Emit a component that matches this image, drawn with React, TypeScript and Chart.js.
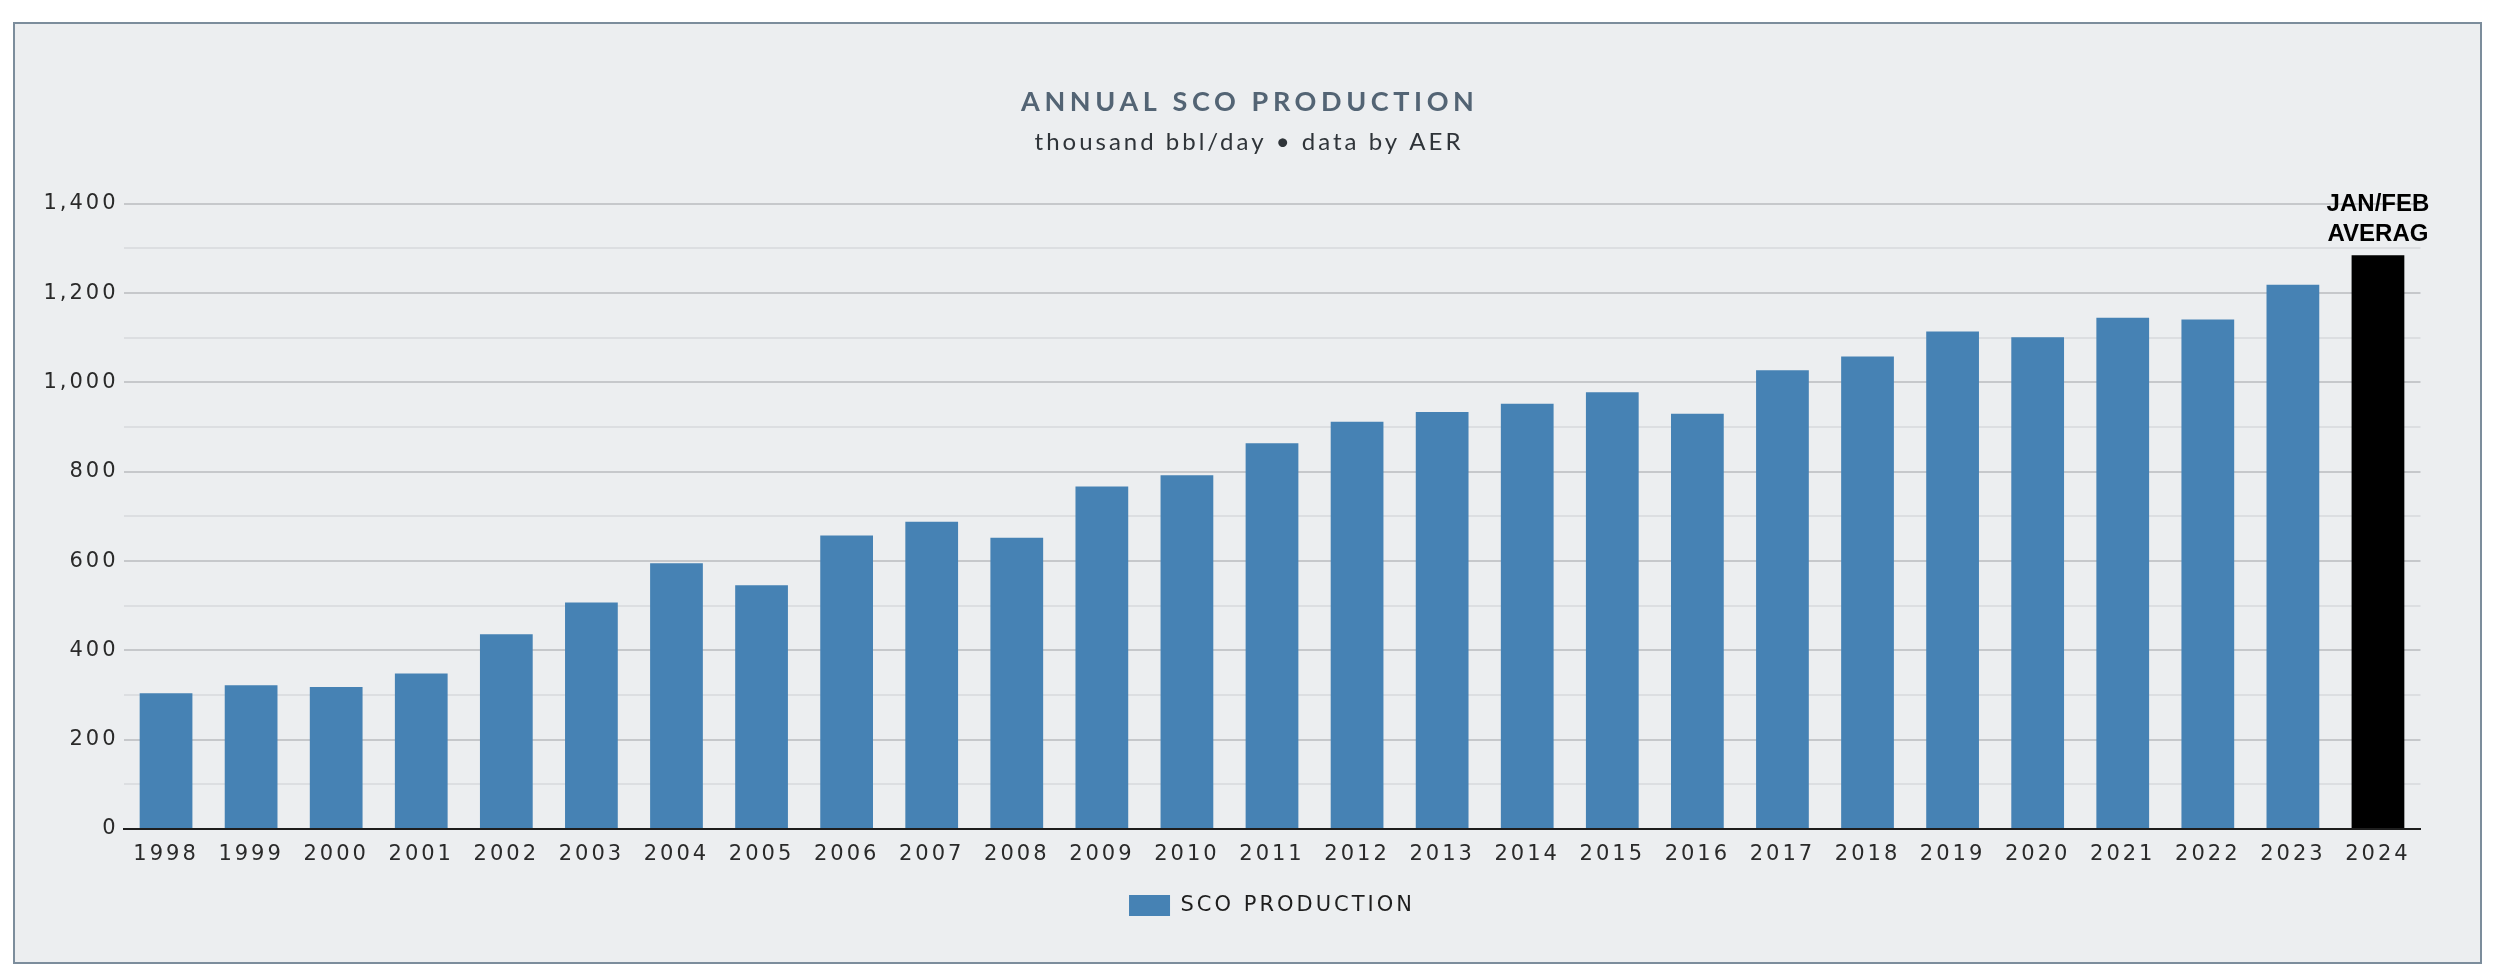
import React, { useEffect, useRef } from 'react';
import { Chart, registerables } from 'chart.js';

Chart.register(...registerables);

const titleText = 'ANNUAL SCO PRODUCTION';
const subtitleText = 'thousand bbl/day \u2022 data by AER';
const seriesName = 'SCO PRODUCTION';

const years = [
  '1998', '1999', '2000', '2001', '2002', '2003', '2004', '2005', '2006',
  '2007', '2008', '2009', '2010', '2011', '2012', '2013', '2014', '2015',
  '2016', '2017', '2018', '2019', '2020', '2021', '2022', '2023', '2024',
];

const production = [
  304, 322, 318, 348, 436, 507, 595, 546, 657,
  688, 652, 767, 792, 864, 912, 934, 952, 978,
  930, 1027, 1058, 1114, 1101, 1145, 1141, 1219, 1285,
];

const highlightLabel = ['JAN/FEB', 'AVERAG'];

const yTickValues = [0, 200, 400, 600, 800, 1000, 1200, 1400];

const BLUE = '#4682b4';
const HIGHLIGHT = '#000000';
const TICK_SPACING = '3px';

const spacingPlugin = {
  id: 'spacing',
  beforeUpdate(chart: any) {
    chart.ctx.letterSpacing = TICK_SPACING;
  },
  afterLayout(chart: any) {
    chart.boxes.forEach((b: any) => {
      if (b && b.options && typeof b.options.text === 'string' && !b.__wrapped) {
        const orig = b.draw;
        const isTitle = b.options.text === titleText;
        const spPx = isTitle ? 4.6 : 3;
        b.draw = function (...args: any[]) {
          const ctx = this.ctx;
          const prev = ctx.letterSpacing;
          const dx = this.chart.width / 2 - (this.left + this.right) / 2 + spPx / 2;
          ctx.save();
          ctx.translate(dx, 0);
          ctx.letterSpacing = spPx + 'px';
          orig.apply(this, args);
          ctx.restore();
          ctx.letterSpacing = prev;
        };
        b.__wrapped = true;
      }
    });
  },
  beforeDraw(chart: any) {
    chart.ctx.letterSpacing = TICK_SPACING;
  },
};

const barLabelPlugin = {
  id: 'barLabel',
  afterDatasetsDraw(chart: any) {
    const meta = chart.getDatasetMeta(0);
    const last = meta.data[meta.data.length - 1];
    if (!last) return;
    const ctx = chart.ctx;
    ctx.save();
    ctx.letterSpacing = '0px';
    ctx.font = 'bold 24px "Liberation Sans", Arial, sans-serif';
    ctx.fillStyle = '#000000';
    ctx.textAlign = 'center';
    ctx.textBaseline = 'middle';
    const n = highlightLabel.length;
    highlightLabel.forEach((line, i) => {
      ctx.fillText(line, last.x, last.y - 21 - (n - 1 - i) * 30);
    });
    ctx.restore();
  },
};

export default function App() {
  const canvasRef = useRef<HTMLCanvasElement | null>(null);

  useEffect(() => {
    const canvas = canvasRef.current;
    if (!canvas) return;
    const lastIndex = years.length - 1;
    const tickFont = { family: '"DejaVu Sans", Verdana, sans-serif', size: 21 };
    const chart = new Chart(canvas, {
      type: 'bar',
      data: {
        labels: years,
        datasets: [
          {
            label: seriesName,
            data: production,
            backgroundColor: (c: any) => (c.dataIndex === lastIndex ? HIGHLIGHT : BLUE),
            borderWidth: 0,
            categoryPercentage: 1,
            barPercentage: 0.62,
          },
        ],
      },
      options: {
        animation: false,
        responsive: false,
        devicePixelRatio: 1,
        layout: { padding: { left: 8, right: 59.5, top: 0, bottom: 36 } },
        plugins: {
          title: {
            display: true,
            text: titleText,
            color: '#536474',
            font: { family: 'Lato, "Open Sans", sans-serif', size: 27, weight: 'bold', lineHeight: 1.2 },
            padding: { top: 62, bottom: 11 },
          },
          subtitle: {
            display: true,
            text: subtitleText,
            color: '#2f3439',
            font: { family: 'Lato, "Open Sans", sans-serif', size: 24, weight: 'normal', lineHeight: 1.1 },
            padding: { top: 0, bottom: 48 },
          },
          legend: {
            display: true,
            position: 'bottom',
            fullSize: false,
            labels: {
              boxWidth: 41,
              boxHeight: 21,
              padding: 10,
              color: '#1e1e1e',
              font: { family: '"DejaVu Sans", Verdana, sans-serif', size: 21 },
            },
          },
          tooltip: { enabled: false },
        },
        scales: {
          x: {
            offset: true,
            grid: { display: false, drawTicks: false },
            border: { display: true, color: '#1e1e1e', width: 2, z: 1 },
            ticks: {
              color: '#2a2a2a',
              padding: 13,
              autoSkip: false,
              maxRotation: 0,
              font: tickFont,
            },
            afterFit: (s: any) => {
              s.height = 56;
            },
          },
          y: {
            min: 0,
            max: 1400,
            border: { display: false },
            grid: {
              drawTicks: false,
              color: (c: any) => {
                const v = c.tick ? c.tick.value : 0;
                if (v === 0) return 'rgba(0,0,0,0)';
                return yTickValues.includes(v) ? '#c6c8cb' : '#dcdee1';
              },
              lineWidth: 2,
            },
            ticks: {
              stepSize: 100,
              autoSkip: false,
              padding: 5,
              color: '#2a2a2a',
              font: tickFont,
              callback: (v: any) => (yTickValues.includes(Number(v)) ? Number(v).toLocaleString('en-US') : ''),
            },
            afterFit: (s: any) => {
              s.width = 100.5;
            },
          },
        },
      },
      plugins: [spacingPlugin, barLabelPlugin],
    } as any);
    return () => chart.destroy();
  }, []);

  return (
    <div
      style={{
        position: 'absolute',
        left: 13,
        top: 22,
        width: 2469,
        height: 942,
        boxSizing: 'border-box',
        border: '2px solid #7c8d9c',
        background: '#eceef0',
      }}
    >
      <canvas ref={canvasRef} width={2465} height={938} style={{ display: 'block' }} />
    </div>
  );
}
